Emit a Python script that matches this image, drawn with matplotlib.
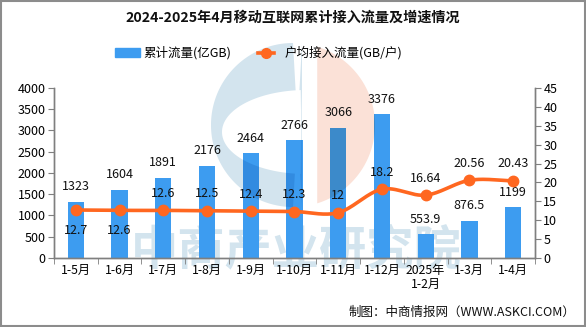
import numpy as np
import matplotlib
matplotlib.use("Agg")
import matplotlib.pyplot as plt
from matplotlib.patches import Rectangle, Polygon

plt.rcParams['font.family'] = ['Noto Sans CJK SC', 'DejaVu Sans']

categories = ["1-5月", "1-6月", "1-7月", "1-8月", "1-9月", "1-10月", "1-11月",
              "1-12月", "2025年\n1-2月", "1-3月", "1-4月"]
traffic = [1323, 1604, 1891, 2176, 2464, 2766, 3066, 3376, 553.9, 876.5, 1199]
traffic_labels = ["1323", "1604", "1891", "2176", "2464", "2766", "3066", "3376",
                  "553.9", "876.5", "1199"]
per_user = [12.7, 12.6, 12.6, 12.5, 12.4, 12.3, 12.0, 18.2, 16.64, 20.56, 20.43]
per_user_labels = ["12.7", "12.6", "12.6", "12.5", "12.4", "12.3", "12", "18.2",
                   "16.64", "20.56", "20.43"]

bar_color = "#3d9cf0"
line_color = "#ff6720"
axis_color = "#7f7f7f"
wm_blue = "#d3e4ee"
wm_peach = "#fbe1d7"

fig = plt.figure(figsize=(5.86, 3.27), dpi=100)

# background watermark layer (pixel coordinates)
wm = fig.add_axes([0, 0, 1, 1], facecolor='none', zorder=0)
wm.set_xlim(0, 586)
wm.set_ylim(327, 0)
wm.axis('off')

ax = fig.add_axes([0.092, 0.211, 0.821, 0.520], zorder=1)
ax.patch.set_alpha(0)
ax2 = ax.twinx()

# logo geometry (pixels)
cx, cy, r = 293, 125, 82
gap_l, gap_r = 302, 317
th = np.linspace(0, 2 * np.pi, 400)
circ = np.c_[cx + r * np.cos(th), cy + r * np.sin(th)]
blue_seg = circ[circ[:, 0] < gap_l]
blue_seg = blue_seg[np.argsort(np.arctan2(blue_seg[:, 1] - cy, blue_seg[:, 0] - cx) % (2 * np.pi))]
ang = np.linspace(np.pi / 2, 3 * np.pi / 2, 200)
blue_poly = np.c_[cx + r * np.cos(ang), cy + r * np.sin(ang)]
blue_poly = blue_poly[blue_poly[:, 0] <= gap_l]
blue_poly = np.vstack([[gap_l, cy - np.sqrt(r**2 - (gap_l - cx)**2)], blue_poly,
                       [gap_l, cy + np.sqrt(r**2 - (gap_l - cx)**2)]])
ang2 = np.linspace(-np.pi / 2, np.pi / 2, 200)
peach_poly = np.c_[cx + r * np.cos(ang2), cy + r * np.sin(ang2)]
peach_poly = peach_poly[peach_poly[:, 0] >= gap_r]
ex, ey, ea, eb = 306, 132, 84, 42
ang3 = np.linspace(np.pi / 2, 3 * np.pi / 2, 200)
hole_poly = np.c_[ex + ea * np.cos(ang3), ey + eb * np.sin(ang3)]
hole_poly = hole_poly[hole_poly[:, 0] <= gap_l]
hole_poly = np.vstack([[gap_l, ey - eb * np.sqrt(1 - ((gap_l - ex) / ea)**2)], hole_poly,
                       [gap_l, ey + eb * np.sqrt(1 - ((gap_l - ex) / ea)**2)]])

wm.add_patch(Polygon(blue_poly, closed=True, color=wm_blue, lw=0))
wm.add_patch(Polygon(hole_poly, closed=True, color='white', lw=0))
wm.add_patch(Polygon(peach_poly, closed=True, color=wm_peach, lw=0))
wm.text(296, 250, "中商产业研究院", ha='center', va='center', fontsize=34,
        fontweight='bold', color=wm_blue)

x = np.arange(len(categories))
bars = ax.bar(x, traffic, width=0.37, color=bar_color, zorder=2)


def mult(c1, c2):
    a = np.array(matplotlib.colors.to_rgb(c1))
    b = np.array(matplotlib.colors.to_rgb(c2))
    return tuple(a * b)


# multiply-blend the logo over the bars
for b in bars:
    for poly, col in ((blue_poly, mult(bar_color, wm_blue)), (hole_poly, bar_color),
                      (peach_poly, mult(bar_color, wm_peach))):
        p = Polygon(poly, closed=True, color=col, lw=0, transform=wm.transData, zorder=2.1)
        ax.add_patch(p)
        p.set_clip_path(b)

ax.set_ylim(0, 4000)
ax.set_yticks(np.arange(0, 4001, 500))
ax.set_xlim(-0.5, len(categories) - 0.5)
ax.set_xticks(x)
ax.set_xticklabels(categories, fontsize=8.8, linespacing=1.1)
ax.set_xticks(np.arange(-0.5, len(categories), 1), minor=True)
ax.tick_params(axis='x', which='major', length=0, pad=4)
ax.tick_params(axis='x', which='minor', length=4, color=axis_color, direction='out')
ax.tick_params(axis='y', length=4, color=axis_color, labelsize=9, pad=2)

ax2.set_ylim(0, 45)
ax2.set_yticks(np.arange(0, 46, 5))
ax2.tick_params(axis='y', length=4, color=axis_color, labelsize=9, pad=2)

for a in (ax, ax2):
    a.spines['top'].set_visible(False)
    for s in ('left', 'right', 'bottom'):
        a.spines[s].set_color(axis_color)
        a.spines[s].set_linewidth(1.0)

# smooth curve (cubic Hermite through the data points)
px = x.astype(float)
py = np.array(per_user, dtype=float)
m = np.zeros_like(py)
m[1:-1] = (py[2:] - py[:-2]) / 2.0
m[0] = py[1] - py[0]
m[-1] = py[-1] - py[-2]
xs, ys = [], []
for i in range(len(px) - 1):
    t = np.linspace(0, 1, 30)
    h00 = 2 * t**3 - 3 * t**2 + 1
    h10 = t**3 - 2 * t**2 + t
    h01 = -2 * t**3 + 3 * t**2
    h11 = t**3 - t**2
    xs.append(px[i] + t)
    ys.append(h00 * py[i] + h10 * m[i] + h01 * py[i + 1] + h11 * m[i + 1])
xs = np.concatenate(xs)
ys = np.concatenate(ys)
ax2.plot(xs, ys, color=line_color, lw=2.6, zorder=3, solid_capstyle='round')
ax2.plot(px, py, 'o', color=line_color, ms=7.5, zorder=4)

# labels
for i, (v, lab) in enumerate(zip(traffic, traffic_labels)):
    ax.annotate(lab, (i, v), xytext=(0, 15), textcoords='offset pixels',
                ha='center', va='center', fontsize=9, color='#111111', zorder=5)
line_offsets = [-20, -20] + [17] * 9
for i, (v, lab) in enumerate(zip(per_user, per_user_labels)):
    ax2.annotate(lab, (i, v), xytext=(0, line_offsets[i]), textcoords='offset pixels',
                 ha='center', va='center', fontsize=9, color='#111111', zorder=5)

# title
fig.text(0.5, 0.945, "2024-2025年4月移动互联网累计接入流量及增速情况", ha='center', va='center',
         fontsize=10.2, fontweight='bold', color='#111111')

# legend
fig.patches.append(Rectangle((115 / 586, 1 - 57 / 327), 25 / 586, 9 / 327,
                             transform=fig.transFigure, color=bar_color))
fig.text(143 / 586, 1 - 53 / 327, "累计流量(亿GB)", ha='left', va='center', fontsize=9)
fig.lines.append(plt.Line2D([258 / 586, 274 / 586], [1 - 53 / 327, 1 - 53 / 327],
                            transform=fig.transFigure, color=line_color, lw=2.6))
fig.lines.append(plt.Line2D([266 / 586], [1 - 53 / 327], transform=fig.transFigure,
                            marker='o', color=line_color, ms=7))
fig.text(285 / 586, 1 - 53 / 327, "户均接入流量(GB/户)", ha='left', va='center', fontsize=9)

# footer
fig.text(575 / 586, 1 - 312 / 327, "制图：中商情报网（WWW.ASKCI.COM）", ha='right',
         va='center', fontsize=9, color='#111111')

# border
fig.patches.append(Rectangle((0.001, 0.002), 0.997, 0.995, transform=fig.transFigure,
                             fill=False, edgecolor='#8c8c8c', lw=1.5))

fig.savefig("out.png", dpi=100)
